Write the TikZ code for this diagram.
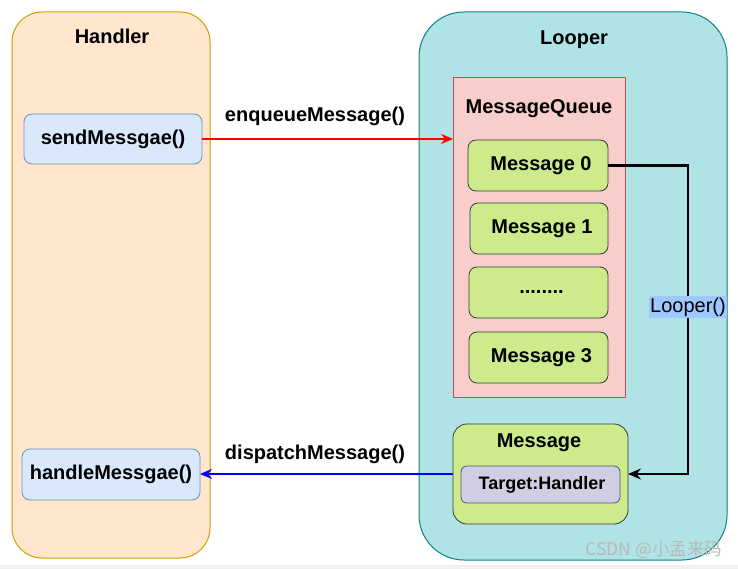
\documentclass[tikz,border=0pt]{standalone}
\usepackage{fontspec}
\setmainfont{Liberation Sans}
\newfontfamily\cjkfont{Noto Sans CJK SC}
\usetikzlibrary{arrows.meta}
\definecolor{hfill}{HTML}{FFE6CC}
\definecolor{hdraw}{HTML}{D79B00}
\definecolor{lfill}{HTML}{B0E3E6}
\definecolor{ldraw}{HTML}{0E8088}
\definecolor{qfill}{HTML}{F8CECC}
\definecolor{qdraw}{HTML}{B85450}
\definecolor{mfill}{HTML}{CDEB8B}
\definecolor{mdraw}{HTML}{36393D}
\definecolor{bfill}{HTML}{DAE8FC}
\definecolor{bdraw}{HTML}{6C8EBF}
\definecolor{tfill}{HTML}{D0CEE2}
\definecolor{tdraw}{HTML}{56517E}
\definecolor{lblbg}{HTML}{9FC8FF}
\tikzset{
  every node/.style={inner sep=0pt, outer sep=0pt},
  txt/.style={font=\fontsize{20}{24}\selectfont\bfseries},
  container/.style={draw, line width=1pt, rounded corners=#1},
  funcbox/.style={draw=bdraw, fill=bfill, line width=0.8pt, rounded corners=8pt, txt},
  msgbox/.style={draw=mdraw, fill=mfill, line width=0.8pt, rounded corners=8pt, txt},
  arr/.style={line width=2.2pt, -{Stealth[length=12pt,width=10pt,inset=4pt]}},
}
\begin{document}
\begin{tikzpicture}[x=1pt,y=-1pt]
\useasboundingbox (0,0) rectangle (738,569);
\fill[white] (0,0) rectangle (738,569);
\fill[gray!12] (0,565) rectangle (738,569);
% Handler container
\node[container=30pt, draw=hdraw, fill=hfill, minimum width=198pt, minimum height=546pt] (handler) at (111,285) {};
\node[txt] (htitle) at (112,36) {Handler};
\node[funcbox, minimum width=178pt, minimum height=50pt] (send) at (113,139) {sendMessgae()};
\node[funcbox, minimum width=178pt, minimum height=51pt] (handle) at (111,474.5) {handleMessgae()};
% Looper container
\node[container=45pt, draw=ldraw, fill=lfill, minimum width=308pt, minimum height=548pt] (looper) at (573,286) {};
\node[txt] (ltitle) at (574,40) {Looper};
\node[draw=qdraw, fill=qfill, line width=0.8pt, minimum width=172pt, minimum height=320pt] (mq) at (539,237) {};
\node[txt] (mqtitle) at (539,109) {MessageQueue};
\node[msgbox, minimum width=140pt, minimum height=51pt] (m0) at (538,165.5) {\hspace{6pt}Message 0};
\node[msgbox, minimum width=138pt, minimum height=51pt] (m1) at (539,228.5) {\hspace{6pt}Message 1};
\node[msgbox, minimum width=139pt, minimum height=51pt] (mdots) at (538.5,292.5) {\hspace{6pt}........};
\node[msgbox, minimum width=139pt, minimum height=51pt] (m3) at (538.5,357.5) {\hspace{6pt}Message 3};
\node[draw=mdraw, fill=mfill, line width=0.8pt, rounded corners=14pt, minimum width=175pt, minimum height=100pt] (msg) at (540.5,474) {};
\node[txt] (msgtitle) at (539,443) {Message};
\node[draw=tdraw, fill=tfill, line width=0.8pt, rounded corners=6pt, minimum width=159pt, minimum height=37pt, font=\fontsize{18}{22}\selectfont\bfseries] (target) at (540.5,484.5) {\hspace{3pt}Target:Handler};
% connectors
\draw[arr, draw=red, fill=red] (send.east) -- (mq.west |- send.east);
\node[txt] (enq) at (315,116) {enqueueMessage()};
\draw[arr, draw=blue, fill=blue] (msg.west) -- (handle.east |- msg.west);
\node[txt] (disp) at (315,454) {dispatchMessage()};
\coordinate (c1) at (688,165.5);
\coordinate (c2) at (688,474);
\draw[line width=2.5pt, -{Stealth[length=13pt,width=11pt,inset=4.5pt]}] (m0.east) -- (c1) -- (c2) -- (msg.east);
\node[fill=lblbg, inner xsep=1pt, inner ysep=2pt, font=\fontsize{20}{24}\selectfont] (lbl) at (688,307) {Looper()};
% watermark
\node[text=gray!55, font=\cjkfont\fontsize{17.5}{20}\selectfont, anchor=east] (wm) at (722,550) {CSDN @小孟来码};
\end{tikzpicture}
\end{document}
